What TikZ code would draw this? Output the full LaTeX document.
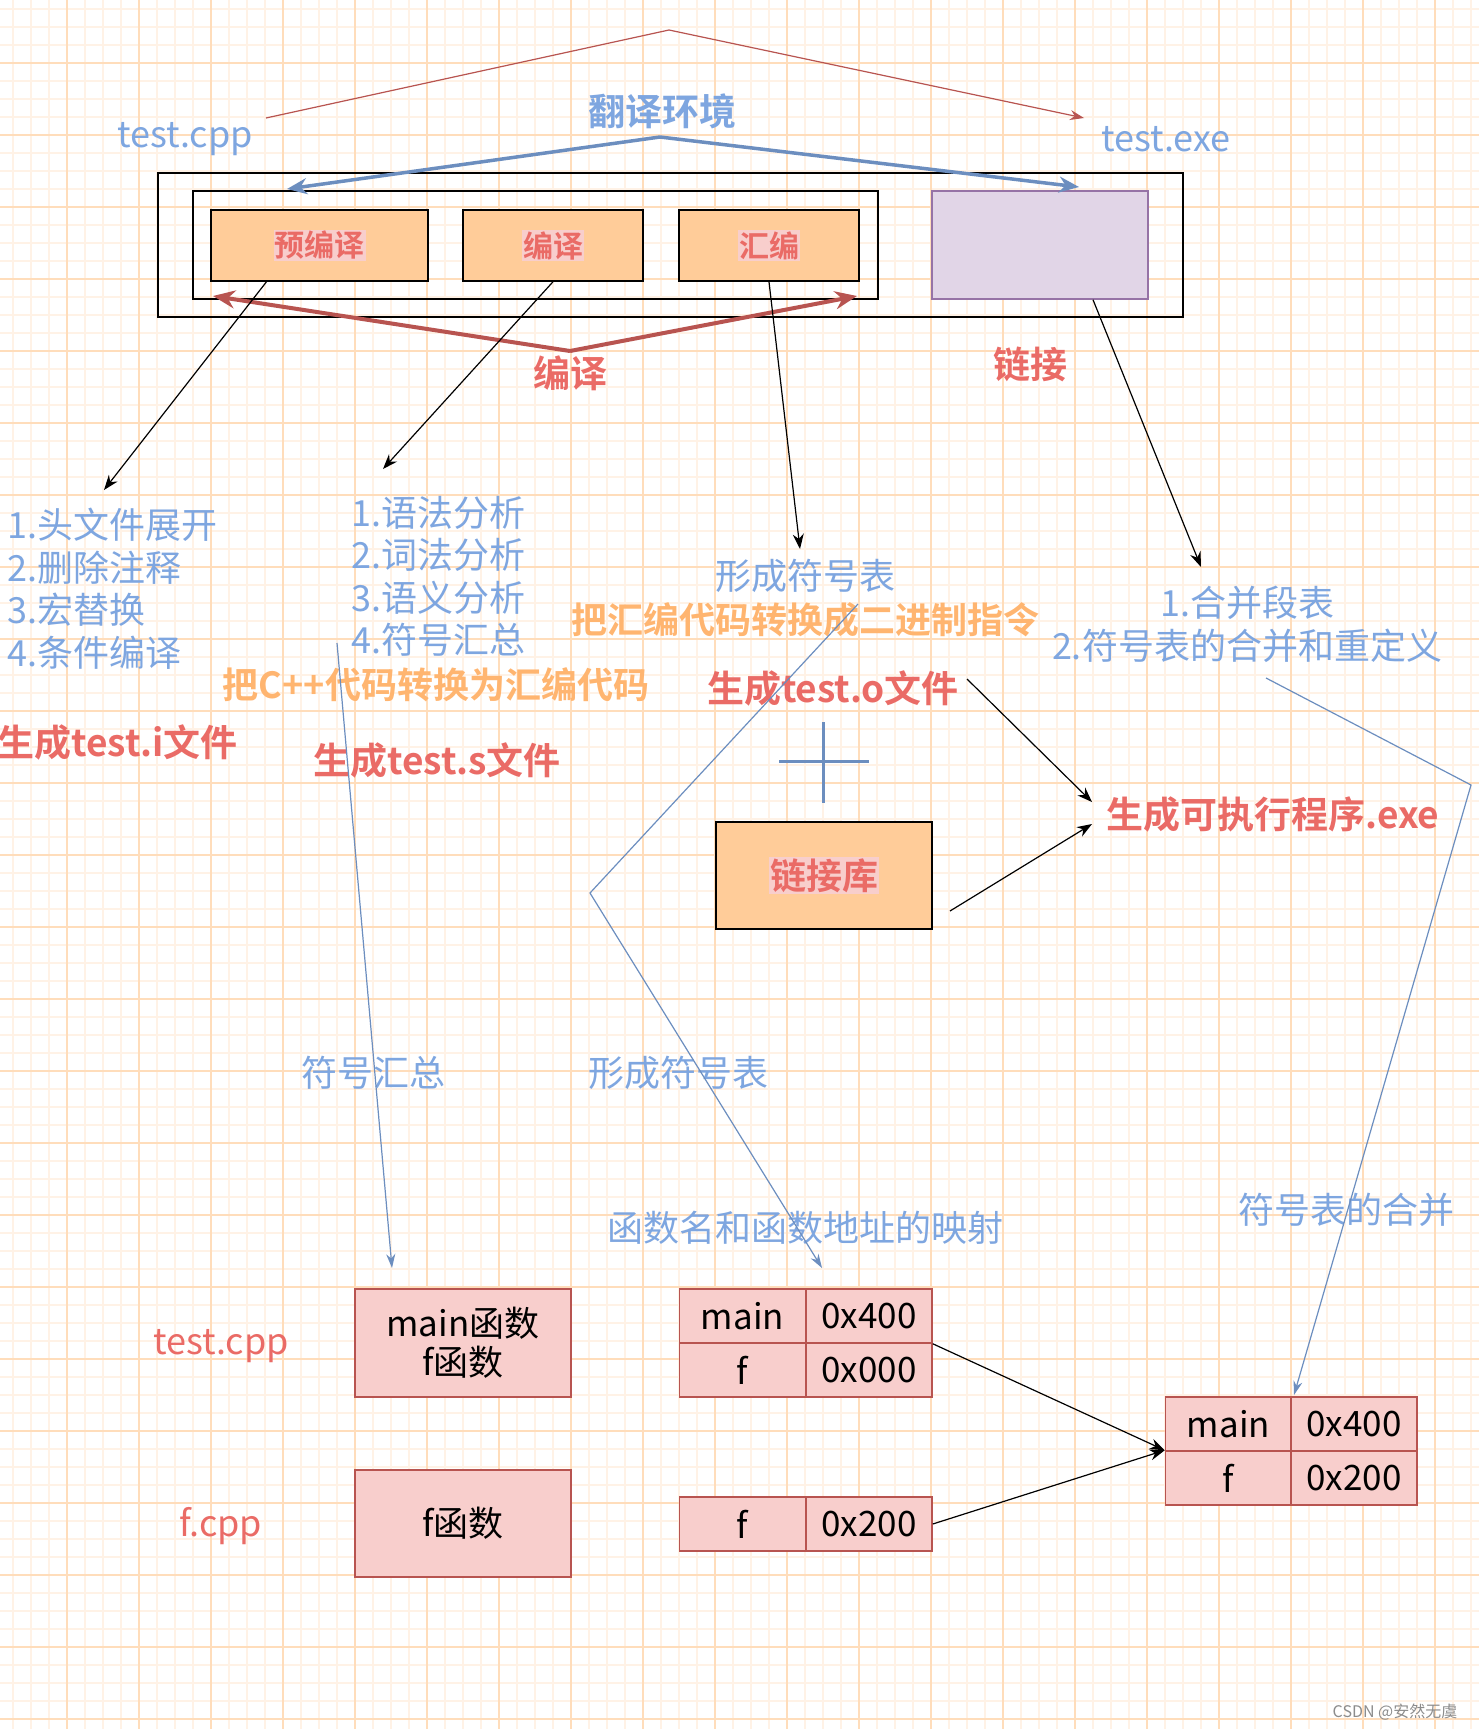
\documentclass[tikz,border=0pt]{standalone}
\usepackage{fontspec}
\setmainfont{Noto Sans CJK SC}[BoldFont={Noto Sans CJK SC Bold}]
\usetikzlibrary{arrows.meta}
\definecolor{gridmajor}{HTML}{FFDDBB}
\definecolor{gridminor}{HTML}{FFF2E6}
\definecolor{txtblue}{HTML}{7EA6E0}
\definecolor{lineblue}{HTML}{6C8EBF}
\definecolor{txtred}{HTML}{EA6B66}
\definecolor{linered}{HTML}{B85450}
\definecolor{txtorange}{HTML}{FFB570}
\definecolor{stageorange}{HTML}{FFCC99}
\definecolor{pinkfill}{HTML}{F8CECC}
\definecolor{linkfill}{HTML}{E1D5E7}
\definecolor{linkdraw}{HTML}{9673A6}
\newcommand{\hilite}[1]{{\setlength{\fboxsep}{1pt}\colorbox{pinkfill}{#1}}}
\begin{document}
\begin{tikzpicture}
[x=1pt,y=-1pt,
  framedecorate/.style={draw,line width=1.5pt,inner sep=0pt},
  stagedecorate/.style={draw,line width=1.5pt,fill=stageorange,text=txtred,inner sep=0pt,
    minimum height=71pt,font=\fontsize{30}{34}\selectfont\bfseries},
  celldecorate/.style={draw=linered,line width=1.5pt,fill=pinkfill,inner sep=0pt,
    minimum width=126pt,minimum height=54pt,font=\fontsize{35}{39}\selectfont},
  bluetext/.style={text=txtblue,inner sep=0pt,font=\fontsize{36}{40}\selectfont},
  redtext/.style={text=txtred,inner sep=0pt,font=\fontsize{37}{40}\selectfont\bfseries},
  orangetext/.style={text=txtorange,inner sep=0pt,font=\fontsize{36}{40}\selectfont\bfseries},
  blackarrow/.style={-{Stealth[length=15pt,width=11pt]},line width=1.2pt},
  bluearrow/.style={-{Stealth[length=14pt,width=9pt]},lineblue,line width=1.2pt},
  thickblue/.style={-{Stealth[length=20pt,width=16pt]},lineblue,line width=3.5pt},
  thickred/.style={-{Stealth[length=22pt,width=18pt]},linered,line width=4pt}]
\useasboundingbox (0,0) rectangle (1479,1729);
\fill[white] (0,0) rectangle (1479,1729);
%% background grid
\foreach \x in {13,31,...,1479} \draw[gridminor,line width=1.2pt] (\x,0) -- (\x,1729);
\foreach \y in {9,27,...,1729} \draw[gridminor,line width=1.2pt] (0,\y) -- (1479,\y);
\foreach \x in {67,139,...,1479} \draw[gridmajor,line width=1.4pt] (\x,0) -- (\x,1729);
\foreach \y in {63,135,...,1729} \draw[gridmajor,line width=1.4pt] (0,\y) -- (1479,\y);
%% nodes or vertices
\node (outer) at (670.5,245) [framedecorate,minimum width=1025pt,minimum height=144pt] {};
\node (inner) at (535.5,245) [framedecorate,minimum width=685pt,minimum height=108pt] {};
\foreach \nodename/\x/\w/\txt in {pre/319.5/217/预编译, comp/553/180/编译, asm/769/180/汇编}
{
  \node (\nodename) at (\x,245.5) [stagedecorate,minimum width=\w pt] {\hilite{\txt}};
}
\node (link) at (1040,245) [draw=linkdraw,line width=1.5pt,fill=linkfill,
  minimum width=216pt,minimum height=108pt] {};
\node (cpptop) at (185,139) [bluetext] {test.cpp};
\node (exetop) at (1166,139) [bluetext] {test.exe};
\node (env) at (662,111) [bluetext,font=\fontsize{37}{40}\selectfont\bfseries] {翻译环境};
\node (compile) at (570,373) [redtext] {编译};
\node (linking) at (1030,364) [redtext] {链接};
\foreach \nodename/\y/\txt in {prea/525/1.头文件展开, preb/568/2.删除注释,
  prec/610/3.宏替换, pred/653/4.条件编译}
{
  \node (\nodename) at (7,\y) [bluetext,anchor=west] {\txt};
}
\foreach \nodename/\y/\txt in {compa/513/1.语法分析, compb/555/2.词法分析,
  compc/598/3.语义分析, compd/640/4.符号汇总}
{
  \node (\nodename) at (351,\y) [bluetext,anchor=west] {\txt};
}
\node (asmtab) at (805,576) [bluetext] {形成符号表};
\node (asmbin) at (805,620) [orangetext] {把汇编代码转换成二进制指令};
\node (linka) at (1247,603) [bluetext] {1.合并段表};
\node (linkb) at (1247,646) [bluetext] {2.符号表的合并和重定义};
\node (compasm) at (436,685) [orangetext] {把C++代码转换为汇编代码};
\node (ofile) at (833,688) [redtext] {生成test.o文件};
\node (ifile) at (-3,742) [redtext,anchor=west] {生成test.i文件};
\node (sfile) at (437,760) [redtext] {生成test.s文件};
\node (exefile) at (1273,814) [redtext] {生成可执行程序.exe};
\node (lib) at (824,875.5) [stagedecorate,minimum width=216pt,minimum height=107pt,
  font=\fontsize{36}{40}\selectfont\bfseries] {\hilite{链接库}};
\node (symsum) at (373,1073) [bluetext] {符号汇总};
\node (symtab) at (678,1073) [bluetext] {形成符号表};
\node (symmap) at (805,1228) [bluetext] {函数名和函数地址的映射};
\node (symmerge) at (1346,1210) [bluetext] {符号表的合并};
\node (cppbot) at (221,1346) [text=txtred,font=\fontsize{36}{40}\selectfont] {test.cpp};
\node (fcpp) at (221,1526) [text=txtred,font=\fontsize{36}{40}\selectfont] {f.cpp};
\node (srca) at (463,1343) [celldecorate,minimum width=216pt,minimum height=108pt,
  align=center] {main函数\\f函数};
\node (srcb) at (463,1523.5) [celldecorate,minimum width=216pt,minimum height=107pt] {f函数};
\foreach \nodename/\x/\y/\txt in {ta/742.5/1316/main, tb/869/1316/0x400,
  tc/742.5/1370/f, td/869/1370/0x000, ua/742.5/1524/f, ub/869/1524/0x200,
  va/1228.5/1424/main, vb/1354/1424/0x400, vc/1228.5/1478/f, vd/1354/1478/0x200}
{
  \node (\nodename) at (\x,\y) [celldecorate] {\txt};
}
\node (mark) at (1395,1712) [text=black!45,font=\fontsize{16}{18}\selectfont] {CSDN @安然无虞};
%% bends and free ends
\foreach \nodename/\x/\y in {redl/266/118, redtop/669/30, redr/1084/118,
  envtip/660/137, envl/287/189, envr/1079/187,
  comptip/570/351, compl/213/296, compr/857/296,
  preend/104/490, compend/383/469, asmend/800/549, linkend/1201/567,
  oout/967/679, libout/950/911, exein/1092/802, exein2/1092/824,
  suma/337/643, sumb/392/1268, taba/858/604, tabb/590/893, tabc/822/1268,
  mrga/1266/678, mrgb/1471/785, mrgc/1294/1395,
  plust/823/722, plusb/823/803, plusl/779/761, plusr/869/761}
{
  \coordinate (\nodename) at (\x,\y);
}
%% edges or lines
\draw[-{Stealth[length=14pt,width=10pt]},linered,line width=1.2pt] (redl) -- (redtop) -- (redr);
\draw[thickblue] (envtip) -- (envl);
\draw[thickblue] (envtip) -- (envr);
\draw[thickred] (comptip) -- (compl);
\draw[thickred] (comptip) -- (compr);
\draw[blackarrow] ([xshift=-53pt]pre.south) -- (preend);
\draw[blackarrow] (comp.south) -- (compend);
\draw[blackarrow] (asm.south) -- (asmend);
\draw[blackarrow] ([xshift=53pt]link.south) -- (linkend);
\draw[blackarrow] (oout) -- (exein);
\draw[blackarrow] (libout) -- (exein2);
\draw[lineblue,line width=3pt] (plust) -- (plusb);
\draw[lineblue,line width=3pt] (plusl) -- (plusr);
\draw[bluearrow] (suma) -- (sumb);
\draw[bluearrow] (taba) -- (tabb) -- (tabc);
\draw[bluearrow] (mrga) -- (mrgb) -- (mrgc);
\draw[blackarrow] (tb.south east) -- (vc.north west);
\draw[blackarrow] (ub.east) -- (vc.north west);
\end{tikzpicture}
\end{document}
